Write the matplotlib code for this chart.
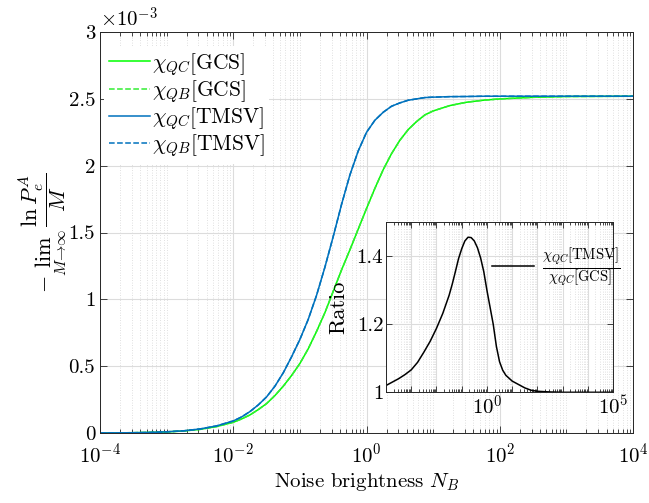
import numpy as np
import matplotlib
matplotlib.use('Agg')
import matplotlib.pyplot as plt
from matplotlib.ticker import LogLocator, FixedLocator, FuncFormatter, NullFormatter

plt.rcParams['font.family'] = ['cmr10', 'DejaVu Serif']
plt.rcParams['mathtext.fontset'] = 'cm'
plt.rcParams['axes.formatter.use_mathtext'] = True
plt.rcParams['axes.unicode_minus'] = False

#---------------- data (y in units of 1e-3) ----------------
log_nb = [-4, -3.75, -3.5, -3.25, -3, -2.75, -2.5, -2.25, -2.0, -1.875, -1.75, -1.625,
          -1.5, -1.375, -1.25, -1.125, -1.0, -0.875, -0.75, -0.625, -0.5, -0.375,
          -0.25, -0.125, 0.0, 0.125, 0.25, 0.375, 0.5, 0.625, 0.75, 0.875, 1.0,
          1.25, 1.5, 1.75, 2.0, 2.5, 3.0, 4.0]
chi_qc_gcs = [0.0005, 0.001, 0.002, 0.004, 0.008, 0.015, 0.027, 0.048, 0.08, 0.105, 0.135, 0.175,
              0.22, 0.28, 0.35, 0.43, 0.52, 0.63, 0.76, 0.90, 1.06, 1.22,
              1.37, 1.525, 1.68, 1.83, 1.97, 2.09, 2.19, 2.27, 2.33, 2.38, 2.41,
              2.45, 2.475, 2.49, 2.50, 2.512, 2.518, 2.52]
chi_qb_gcs = chi_qc_gcs
chi_qc_tmsv = [0.0005, 0.001, 0.002, 0.004, 0.009, 0.016, 0.03, 0.053, 0.09, 0.12, 0.16, 0.21,
               0.27, 0.35, 0.45, 0.57, 0.70, 0.85, 1.03, 1.24, 1.47, 1.71,
               1.93, 2.11, 2.25, 2.34, 2.40, 2.445, 2.47, 2.49, 2.50, 2.51, 2.513,
               2.517, 2.518, 2.52, 2.52, 2.52, 2.52, 2.52]
chi_qb_tmsv = chi_qc_tmsv

# inset: ratio chi_QC[TMSV] / chi_QC[GCS]
log_nb_ratio = [-4, -3.75, -3.5, -3.25, -3, -2.75, -2.5, -2.25, -2, -1.75, -1.5, -1.375,
                -1.25, -1.125, -1.0, -0.875, -0.75, -0.625, -0.5, -0.375, -0.25, -0.125,
                0.0, 0.125, 0.25, 0.375, 0.5, 0.625, 0.75, 1.0, 1.25, 1.5, 1.75, 2.0,
                2.5, 3.0, 4.0, 5.0]
ratio = [1.020, 1.03, 1.04, 1.052, 1.066, 1.088, 1.118, 1.15, 1.188, 1.232, 1.285, 1.318,
         1.355, 1.393, 1.422, 1.445, 1.456, 1.455, 1.445, 1.425, 1.395, 1.355,
         1.30, 1.25, 1.20, 1.135, 1.09, 1.065, 1.05, 1.033, 1.023, 1.013, 1.006, 1.003,
         1.001, 1.0, 1.0, 1.0]

nb = 10.0 ** np.array(log_nb)
nb_r = 10.0 ** np.array(log_nb_ratio)

green = '#00ff00'
blue = '#0072bd'
grid_major = '#dcdcdc'
grid_minor = '#d6d6d6'

fig = plt.figure(figsize=(6.49, 5.03), dpi=100)
ax = fig.add_axes([0.1541, 0.1392, 0.8213, 0.797])

ax.plot(nb, chi_qc_gcs, '-', color=green, lw=1.1, label=r'$\chi_{QC}$[GCS]')
ax.plot(nb, chi_qb_gcs, '--', color='#33ee33', lw=1.1, label=r'$\chi_{QB}$[GCS]')
ax.plot(nb, chi_qc_tmsv, '-', color=blue, lw=1.1, label=r'$\chi_{QC}$[TMSV]')
ax.plot(nb, chi_qb_tmsv, '--', color=blue, lw=1.1, label=r'$\chi_{QB}$[TMSV]')

ax.set_xscale('log')
ax.set_xlim(1e-4, 1e4)
ax.set_ylim(0, 3)
ax.set_xticks([1e-4, 1e-2, 1e0, 1e2, 1e4])
ax.xaxis.set_minor_locator(LogLocator(base=10, subs=np.arange(1, 10), numticks=100))
ax.xaxis.set_minor_formatter(NullFormatter())
ax.set_yticks(np.arange(0, 3.01, 0.5))
ax.set_yticklabels(['0', '0.5', '1', '1.5', '2', '2.5', '3'])
ax.tick_params(which='both', direction='in', top=True, right=True, labelsize=15,
               width=0.6, color='#262626')
ax.tick_params(axis='x', which='major', pad=7)
ax.tick_params(which='major', length=5)
ax.tick_params(which='minor', length=3)
ax.grid(True, which='major', color=grid_major, lw=0.8)
ax.grid(True, which='minor', axis='x', color=grid_minor, lw=0.6, ls=(0, (1, 2)))
for s in ax.spines.values():
    s.set_linewidth(0.7)
    s.set_color('#262626')
ax.set_axisbelow(True)

ax.set_xlabel(r'Noise brightness $N_B$', fontsize=15, labelpad=3)
ax.set_ylabel(r'$-\lim_{M\rightarrow\infty}\,\dfrac{\ln P_e^A}{M}$', fontsize=16, labelpad=0)
ax.text(0.0, 1.002, r'$\times10^{-3}$', transform=ax.transAxes, fontsize=15,
        ha='left', va='bottom')

leg = ax.legend(loc='upper left', bbox_to_anchor=(0.0, 0.975), fontsize=15.5, frameon=True,
                handlelength=1.9, handletextpad=0.1, labelspacing=0.02, borderpad=0.2,
                borderaxespad=0.2)
leg.get_frame().set_edgecolor('none')
leg.get_frame().set_facecolor('white')
leg.get_frame().set_alpha(1)

#---------------- inset ----------------
ins = fig.add_axes([0.5948, 0.2201, 0.3498, 0.338])
ins.plot(nb_r, ratio, '-', color='black', lw=1.1,
         label=r'$\frac{\chi_{QC}[\mathrm{TMSV}]}{\chi_{QC}[\mathrm{GCS}]}$')
ins.set_xscale('log')
ins.set_xlim(1e-4, 1e5)
ins.set_ylim(1, 1.5)
ins.xaxis.set_major_locator(FixedLocator(10.0 ** np.arange(-4, 6)))
ins.xaxis.set_major_formatter(FuncFormatter(
    lambda v, p: {1.0: r'$10^{0}$', 1e5: r'$10^{5}$'}.get(round(v, 6), '')))
ins.xaxis.set_minor_locator(LogLocator(base=10, subs=np.arange(2, 10), numticks=100))
ins.xaxis.set_minor_formatter(NullFormatter())
ins.set_yticks([1, 1.2, 1.4])
ins.set_yticklabels(['1', '1.2', '1.4'])
ins.tick_params(which='both', direction='in', top=True, right=True, labelsize=15,
                width=0.6, color='#262626', pad=2)
ins.tick_params(which='major', length=4)
ins.tick_params(which='minor', length=2)
ins.grid(True, which='major', color=grid_major, lw=0.8)
ins.grid(True, which='minor', axis='x', color=grid_minor, lw=0.6, ls=(0, (1, 2)))
for s in ins.spines.values():
    s.set_linewidth(0.7)
    s.set_color('#262626')
ins.set_ylabel('Ratio', fontsize=16, labelpad=6)
ins.legend(loc='center left', bbox_to_anchor=(0.43, 0.73), frameon=False, fontsize=15,
           handlelength=2.0, handletextpad=0.4, borderaxespad=0)

fig.savefig('out.png', dpi=100)
